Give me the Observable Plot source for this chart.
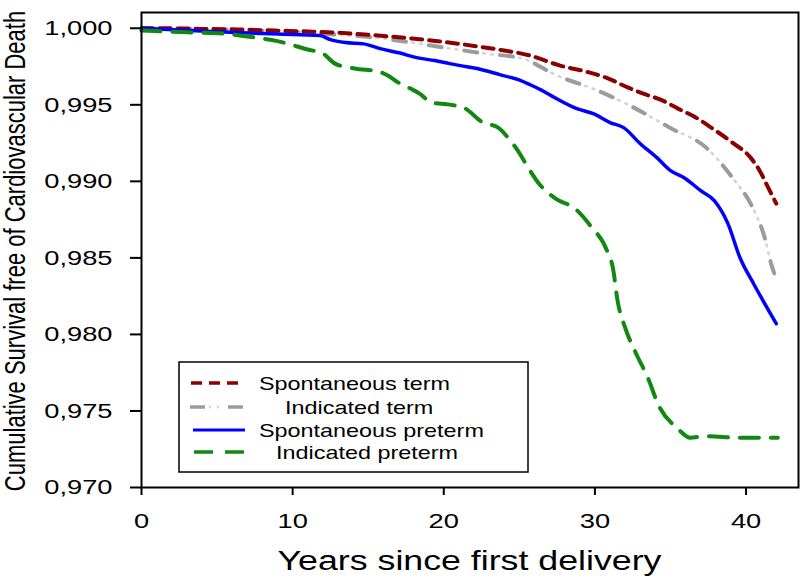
<!DOCTYPE html>
<html>
<head>
<meta charset="utf-8">
<script src="https://cdn.jsdelivr.net/npm/d3@7"></script>
<script src="https://cdn.jsdelivr.net/npm/@observablehq/plot@0.6"></script>
<style>
  html, body { margin: 0; padding: 0; background: #fff; }
  #chart svg { display: block; }
</style>
</head>
<body>
<div id="chart"></div>
<script>
// ---- data ----
const seriesNames = ["Spontaneous term", "Indicated term", "Spontaneous preterm", "Indicated preterm"];

const spontTermYears = [0, 1.6, 4.0, 6.4, 8.8, 11.3, 13.1, 14.2, 16.2, 17.9, 19.8, 22.2, 23.6, 25.7, 27.7, 29.6, 30.9, 32.2, 33.2, 34.5, 35.5, 36.7, 37.8, 39.1, 40.3, 40.9, 41.4, 42.0];
const spontTermSurv  = [1.0000, 1.0000, 0.99996, 0.99992, 0.99985, 0.99978, 0.99970, 0.99963, 0.99948, 0.99933, 0.99913, 0.99882, 0.99861, 0.99822, 0.99756, 0.99712, 0.99671, 0.99612, 0.99573, 0.99527, 0.99475, 0.99416, 0.99344, 0.99253, 0.99155, 0.99070, 0.98972, 0.98855];

const indTermYears = [0, 2.9, 5.3, 7.8, 10.5, 12.7, 15.2, 17.8, 20.2, 22.7, 25.2, 27.5, 30.1, 32.5, 35.0, 37.4, 39.1, 40.4, 41.2, 41.7, 42.0];
const indTermSurv  = [1.0000, 0.99996, 0.99992, 0.99985, 0.99974, 0.99959, 0.99941, 0.99908, 0.99871, 0.99835, 0.99802, 0.99691, 0.99596, 0.99485, 0.99348, 0.99217, 0.99024, 0.98835, 0.98644, 0.98448, 0.98363];

const spontPreYears = [0, 5, 9, 11.8, 12.5, 13.5, 14.7, 15.8, 17.1, 18.2, 19.4, 20.4, 21.1, 22.2, 23.7, 25.1, 25.7, 26.4, 27.1, 28.8, 29.9, 31.0, 31.9, 33.0, 34.1, 35.0, 35.9, 37.0, 37.9, 38.8, 39.6, 40.5, 42.0];
const spontPreSurv  = [1.0000, 0.99978, 0.99962, 0.99952, 0.99926, 0.99907, 0.99898, 0.99867, 0.99838, 0.99808, 0.99789, 0.99769, 0.99756, 0.99737, 0.99697, 0.99658, 0.99632, 0.99599, 0.99560, 0.99475, 0.99442, 0.99384, 0.99351, 0.99246, 0.99155, 0.99070, 0.99024, 0.98939, 0.98874, 0.98724, 0.98501, 0.98331, 0.98070];

const indPreYears = [0, 3, 5.5, 7, 9, 11, 12, 12.8, 14.1, 15.7, 16.3, 17.0, 17.8, 18.4, 19.2, 20.4, 21.3, 22.6, 23.6, 24.3, 24.9, 25.5, 26.3, 27.4, 28.7, 29.7, 30.8, 31.2, 31.5, 32.0, 32.7, 33.5, 34.2, 35.5, 36.3, 37.3, 39.6, 42.1];
const indPreSurv  = [0.99985, 0.99974, 0.99965, 0.99946, 0.99916, 0.99861, 0.99835, 0.99769, 0.99737, 0.99717, 0.99691, 0.99645, 0.99606, 0.99573, 0.99514, 0.99501, 0.99482, 0.99384, 0.99351, 0.99279, 0.99201, 0.99103, 0.98985, 0.98887, 0.98821, 0.98710, 0.98547, 0.98429, 0.98220, 0.98044, 0.97880, 0.97717, 0.97540, 0.97383, 0.97325, 0.97335, 0.97325, 0.97325];

const xTicks = [0, 10, 20, 30, 40];
const yTicks = [0.970, 0.975, 0.980, 0.985, 0.990, 0.995, 1.000];
const xTitle = "Years since first delivery";
const yTitle = "Cumulative Survival free of Cardiovascular Death";

// ---- build tables ----
const toRows = (xs, ys) => xs.map((x, i) => ({x, y: ys[i]}));
const spontTerm = toRows(spontTermYears, spontTermSurv);
const indTerm = toRows(indTermYears, indTermSurv);
const spontPre = toRows(spontPreYears, spontPreSurv);
const indPre = toRows(indPreYears, indPreSurv);

const FONT = "'Liberation Sans', Arial, sans-serif";
const STRETCH = 1.3;

const styles = [
  {stroke: "#8b0000", strokeWidth: 4, dash: "11 7"},
  {stroke: "#9c9c9c", strokeWidth: 4, dash: "13 23", dots: "#d4d4d4"},
  {stroke: "#0000ff", strokeWidth: 3.5, dash: null},
  {stroke: "#118811", strokeWidth: 4, dash: "19 12"}
];

const lineOpts = (s) => ({x: "x", y: "y", stroke: s.stroke, strokeWidth: s.strokeWidth,
  strokeDasharray: s.dash || undefined, curve: "monotone-x"});

const chart = Plot.plot({
  width: 800,
  height: 577,
  marginLeft: 141,
  marginRight: 2,
  marginTop: 12,
  marginBottom: 90,
  style: {fontFamily: FONT, background: "#fff", color: "#000"},
  x: {domain: [0, 43.47]},
  y: {domain: [0.970, 1.00103]},
  marks: [
    Plot.line(indTerm, {x: "x", y: "y", stroke: styles[1].dots, strokeWidth: 2.5, strokeDasharray: "0 19 2 6 2 7", curve: "monotone-x"}),
    Plot.line(indTerm, lineOpts(styles[1])),
    Plot.line(spontTerm, lineOpts(styles[0])),
    Plot.line(spontPre, lineOpts(styles[2])),
    Plot.line(indPre, lineOpts(styles[3])),
    Plot.frame({stroke: "#000", strokeWidth: 2}),
    Plot.axisY({ticks: yTicks, tickSize: 11, tickPadding: 18, fontSize: 21, strokeWidth: 2,
      tickFormat: d => d.toFixed(3).replace(".", ","), label: null}),
    Plot.axisX({ticks: xTicks, tickSize: 8, tickPadding: 18, fontSize: 21, strokeWidth: 2,
      tickFormat: d => String(d), label: null})
  ]
});

document.getElementById("chart").appendChild(chart);

const svg = d3.select(chart);
// horizontal stretch of tick labels as in the reference
svg.selectAll('g[aria-label$="tick label"] text').each(function() {
  const t = d3.select(this);
  const tr = t.attr("transform") || "";
  t.attr("transform", tr + ` scale(${STRETCH},1)`).attr("fill", "#000");
});

// axis titles
const cx = (141 + 798) / 2;
svg.append("text")
  .attr("transform", `translate(${cx},570) scale(${STRETCH},1)`)
  .attr("text-anchor", "middle")
  .attr("font-family", FONT)
  .attr("font-size", 27.5)
  .attr("fill", "#000")
  .text(xTitle);

svg.append("text")
  .attr("transform", `translate(25,251) scale(${STRETCH},1) rotate(-90)`)
  .attr("text-anchor", "middle")
  .attr("font-family", FONT)
  .attr("font-size", 22)
  .attr("fill", "#000")
  .text(yTitle);

// legend
const lg = svg.append("g").attr("font-family", FONT).attr("font-size", 18).attr("text-anchor", "start");
lg.append("rect")
  .attr("x", 179).attr("y", 362).attr("width", 349).attr("height", 110)
  .attr("fill", "#fff").attr("stroke", "#000").attr("stroke-width", 1.5);
const rowsY = [383, 407, 430, 452];
const textX = [259, 285, 259, 276];
const sampleX0 = [191, 190, 193, 194];
const sampleX1 = [239, 243, 245, 247];
seriesNames.forEach((name, i) => {
  const s = styles[i];
  if (s.dots) {
    lg.append("line")
      .attr("x1", sampleX0[i]).attr("x2", sampleX1[i]).attr("y1", rowsY[i]).attr("y2", rowsY[i])
      .attr("stroke", s.dots).attr("stroke-width", 2.5).attr("stroke-dasharray", "0 19 2 6 2 7");
  }
  lg.append("line")
    .attr("x1", sampleX0[i]).attr("x2", sampleX1[i]).attr("y1", rowsY[i]).attr("y2", rowsY[i])
    .attr("stroke", s.stroke).attr("stroke-width", s.strokeWidth - 0.5)
    .attr("stroke-dasharray", s.dash ? (i === 1 ? "15 23" : s.dash) : null);
  lg.append("text")
    .attr("transform", `translate(${textX[i]},${rowsY[i] + 6.5}) scale(${STRETCH},1)`)
    .attr("text-anchor", "start")
    .attr("fill", "#000")
    .text(name);
});
</script>
</body>
</html>
